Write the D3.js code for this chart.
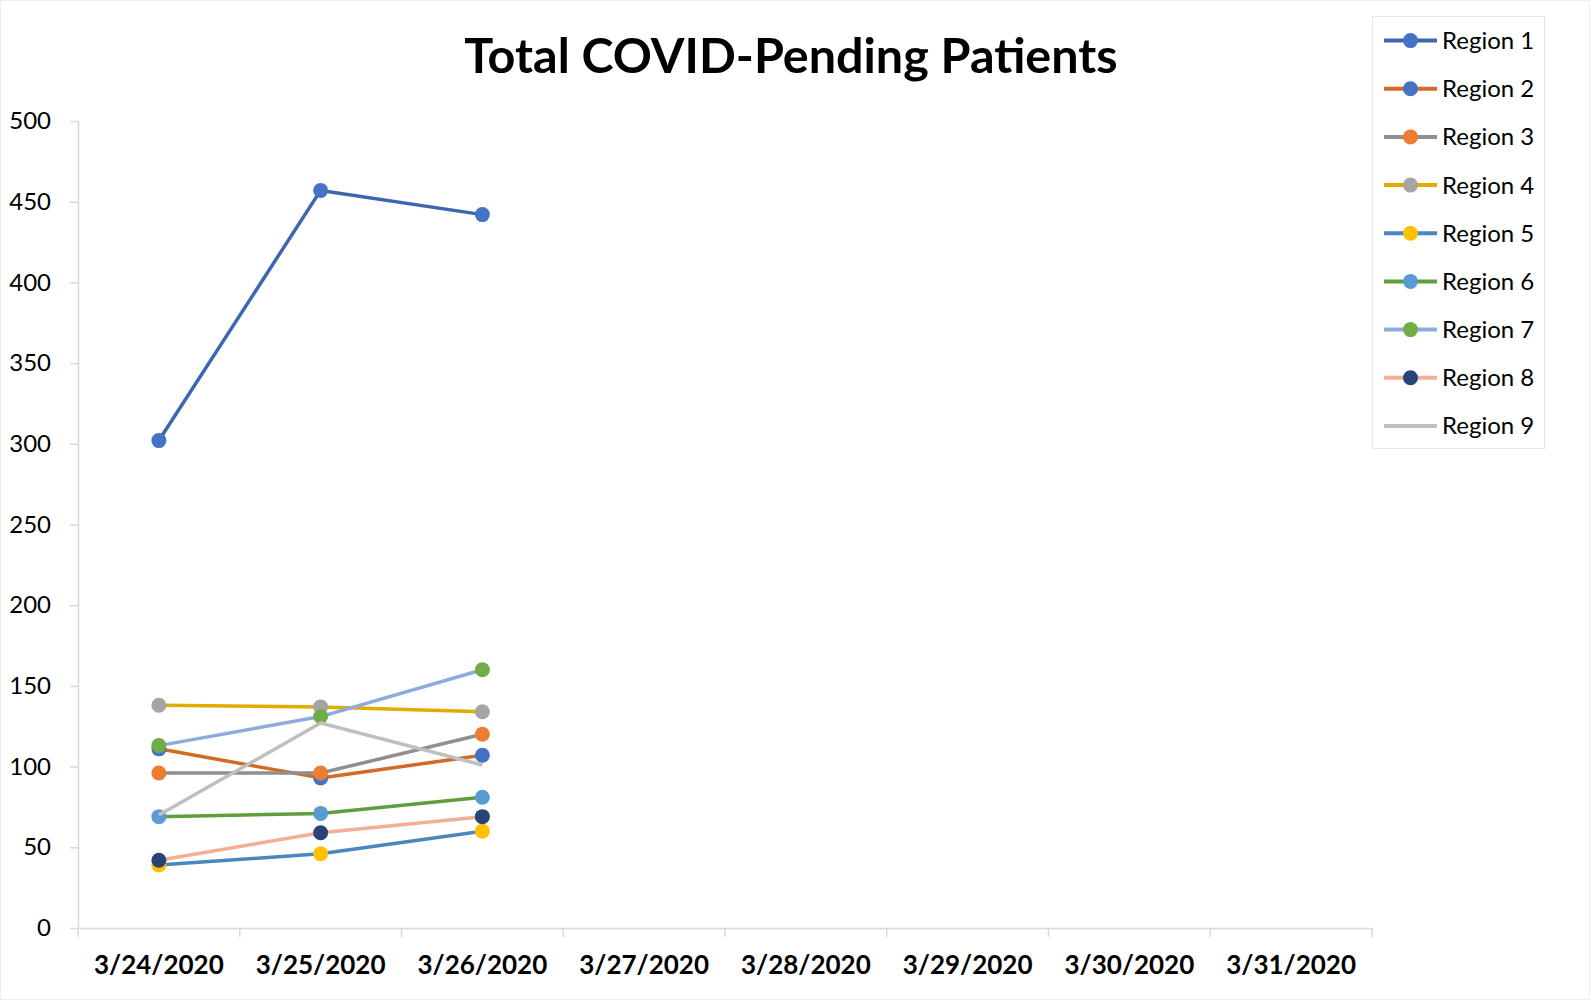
<html>
    <head>
        <meta charset="utf-8" />
        <title>Total COVID-Pending Patients</title>
        <script src="https://d3js.org/d3.v7.min.js"></script>
        <style>
            body {
                margin: 0px;
                background: #fff;
            }
            text {
                font-family: Lato, "Open Sans", sans-serif;
            }
            .y-axis .domain, .y-axis .tick line,
            .x-axis .domain, .x-tick {
                stroke: #d9d9d9;
                stroke-width: 1.5;
            }
        </style>
    </head>
    <body>
        <script type="text/javascript">
            // categories and series
            var dates = ["3/24/2020", "3/25/2020", "3/26/2020", "3/27/2020",
                         "3/28/2020", "3/29/2020", "3/30/2020", "3/31/2020"];
            var regionNames = ["Region 1", "Region 2", "Region 3", "Region 4", "Region 5",
                               "Region 6", "Region 7", "Region 8", "Region 9"];
            var yTicks = [0, 50, 100, 150, 200, 250, 300, 350, 400, 450, 500];

            // only the first three days have values
            var region1 = [302, 457, 442];
            var region2 = [111, 93, 107];
            var region3 = [96, 96, 120];
            var region4 = [138, 137, 134];
            var region5 = [39, 46, 60];
            var region6 = [69, 71, 81];
            var region7 = [113, 131, 160];
            var region8 = [42, 59, 69];
            var region9 = [70, 127, 101];

            // line colour and marker colour don't match in the original sheet
            var lineColors = ["#3e66b0", "#d36a27", "#8f8f8f", "#e2ab00", "#4a87bf",
                              "#5f9e3c", "#8faadc", "#f4ae93", "#bfbfbf"];
            var markerColors = ["#4472c4", "#4472c4", "#ed7d31", "#a5a5a5", "#ffc000",
                                "#5b9bd5", "#70ad47", "#264478", null];

            var allSeries = [region1, region2, region3, region4, region5,
                             region6, region7, region8, region9];

            var width = 1590, height = 1002;
            var margin = {top: 121, right: 218, bottom: 74, left: 78};

            var svg = d3.select("body").append("svg")
                .attr("width", width)
                .attr("height", height);

            // faint outer border
            svg.append("rect")
                .attr("x", 0.5).attr("y", 0.5)
                .attr("width", width - 1).attr("height", height - 3)
                .attr("fill", "#fff")
                .attr("stroke", "#ececec");

            var x = d3.scaleBand()
                .domain(dates)
                .range([margin.left, width - margin.right]);

            var y = d3.scaleLinear()
                .domain([0, 500])
                .range([height - margin.bottom, margin.top]);

            // title
            svg.append("text")
                .attr("x", 791)
                .attr("y", 73)
                .attr("text-anchor", "middle")
                .style("font-size", "48.5px")
                .style("font-weight", "bold")
                .text("Total COVID-Pending Patients");

            // Y axis
            var yAxis = svg.append("g")
                .attr("class", "y-axis")
                .attr("transform", "translate(" + margin.left + ",0)")
                .call(d3.axisLeft(y).tickValues(yTicks).tickSize(8).tickSizeOuter(0).tickPadding(19));
            yAxis.selectAll(".tick text")
                .style("font-size", "24px")
                .attr("fill", "#000");

            // X axis, labels centred in bands and ticks on band edges
            var xAxis = svg.append("g")
                .attr("class", "x-axis")
                .attr("transform", "translate(0," + y(0) + ")")
                .call(d3.axisBottom(x).tickSize(0).tickSizeOuter(0).tickPadding(28));
            xAxis.selectAll(".tick text")
                .style("font-size", "26px")
                .style("font-weight", "bold")
                .attr("fill", "#000");

            var edges = dates.map(d => x(d)).concat([x(dates[dates.length - 1]) + x.bandwidth()]);
            xAxis.selectAll(".x-tick")
                .data(edges)
                .enter()
                .append("line")
                    .attr("class", "x-tick")
                    .attr("x1", d => d).attr("x2", d => d)
                    .attr("y1", 0).attr("y2", 9);

            var line = d3.line()
                .x((d, i) => x(dates[i]) + x.bandwidth() / 2)
                .y(d => y(d));

            // each series draws its line then its markers, in order
            allSeries.forEach(function(vals, s) {
                var g = svg.append("g");
                g.append("path")
                    .datum(vals)
                    .attr("d", line)
                    .attr("fill", "none")
                    .attr("stroke", lineColors[s])
                    .attr("stroke-width", 3.5)
                    .attr("stroke-linejoin", "round");
                if (markerColors[s]) {
                    g.selectAll("circle")
                        .data(vals)
                        .enter()
                        .append("circle")
                            .attr("cx", (d, i) => x(dates[i]) + x.bandwidth() / 2)
                            .attr("cy", d => y(d))
                            .attr("r", 7.5)
                            .attr("fill", markerColors[s]);
                }
            });

            // legend
            var legend = svg.append("g");
            legend.append("rect")
                .attr("x", 1372.5).attr("y", 16.5)
                .attr("width", 172).attr("height", 432)
                .attr("fill", "#fff")
                .attr("stroke", "#e6e6e6");

            var rowY = d3.scalePoint()
                .domain(regionNames)
                .range([40.6, 425.9]);

            var items = legend.selectAll(".item")
                .data(regionNames)
                .enter()
                .append("g")
                    .attr("class", "item")
                    .attr("transform", d => "translate(0," + rowY(d) + ")");

            items.append("line")
                .attr("x1", 1384).attr("x2", 1437)
                .attr("y1", 0).attr("y2", 0)
                .attr("stroke", (d, i) => lineColors[i])
                .attr("stroke-width", 4);

            items.filter((d, i) => markerColors[i] != null)
                .append("circle")
                    .attr("cx", 1410.5).attr("cy", 0)
                    .attr("r", 7.5)
                    .attr("fill", (d, i) => markerColors[i]);

            items.append("text")
                .attr("x", 1442)
                .attr("y", 8.5)
                .style("font-size", "24px")
                .attr("fill", "#000")
                .text(d => d);
        </script>
    </body>
</html>
